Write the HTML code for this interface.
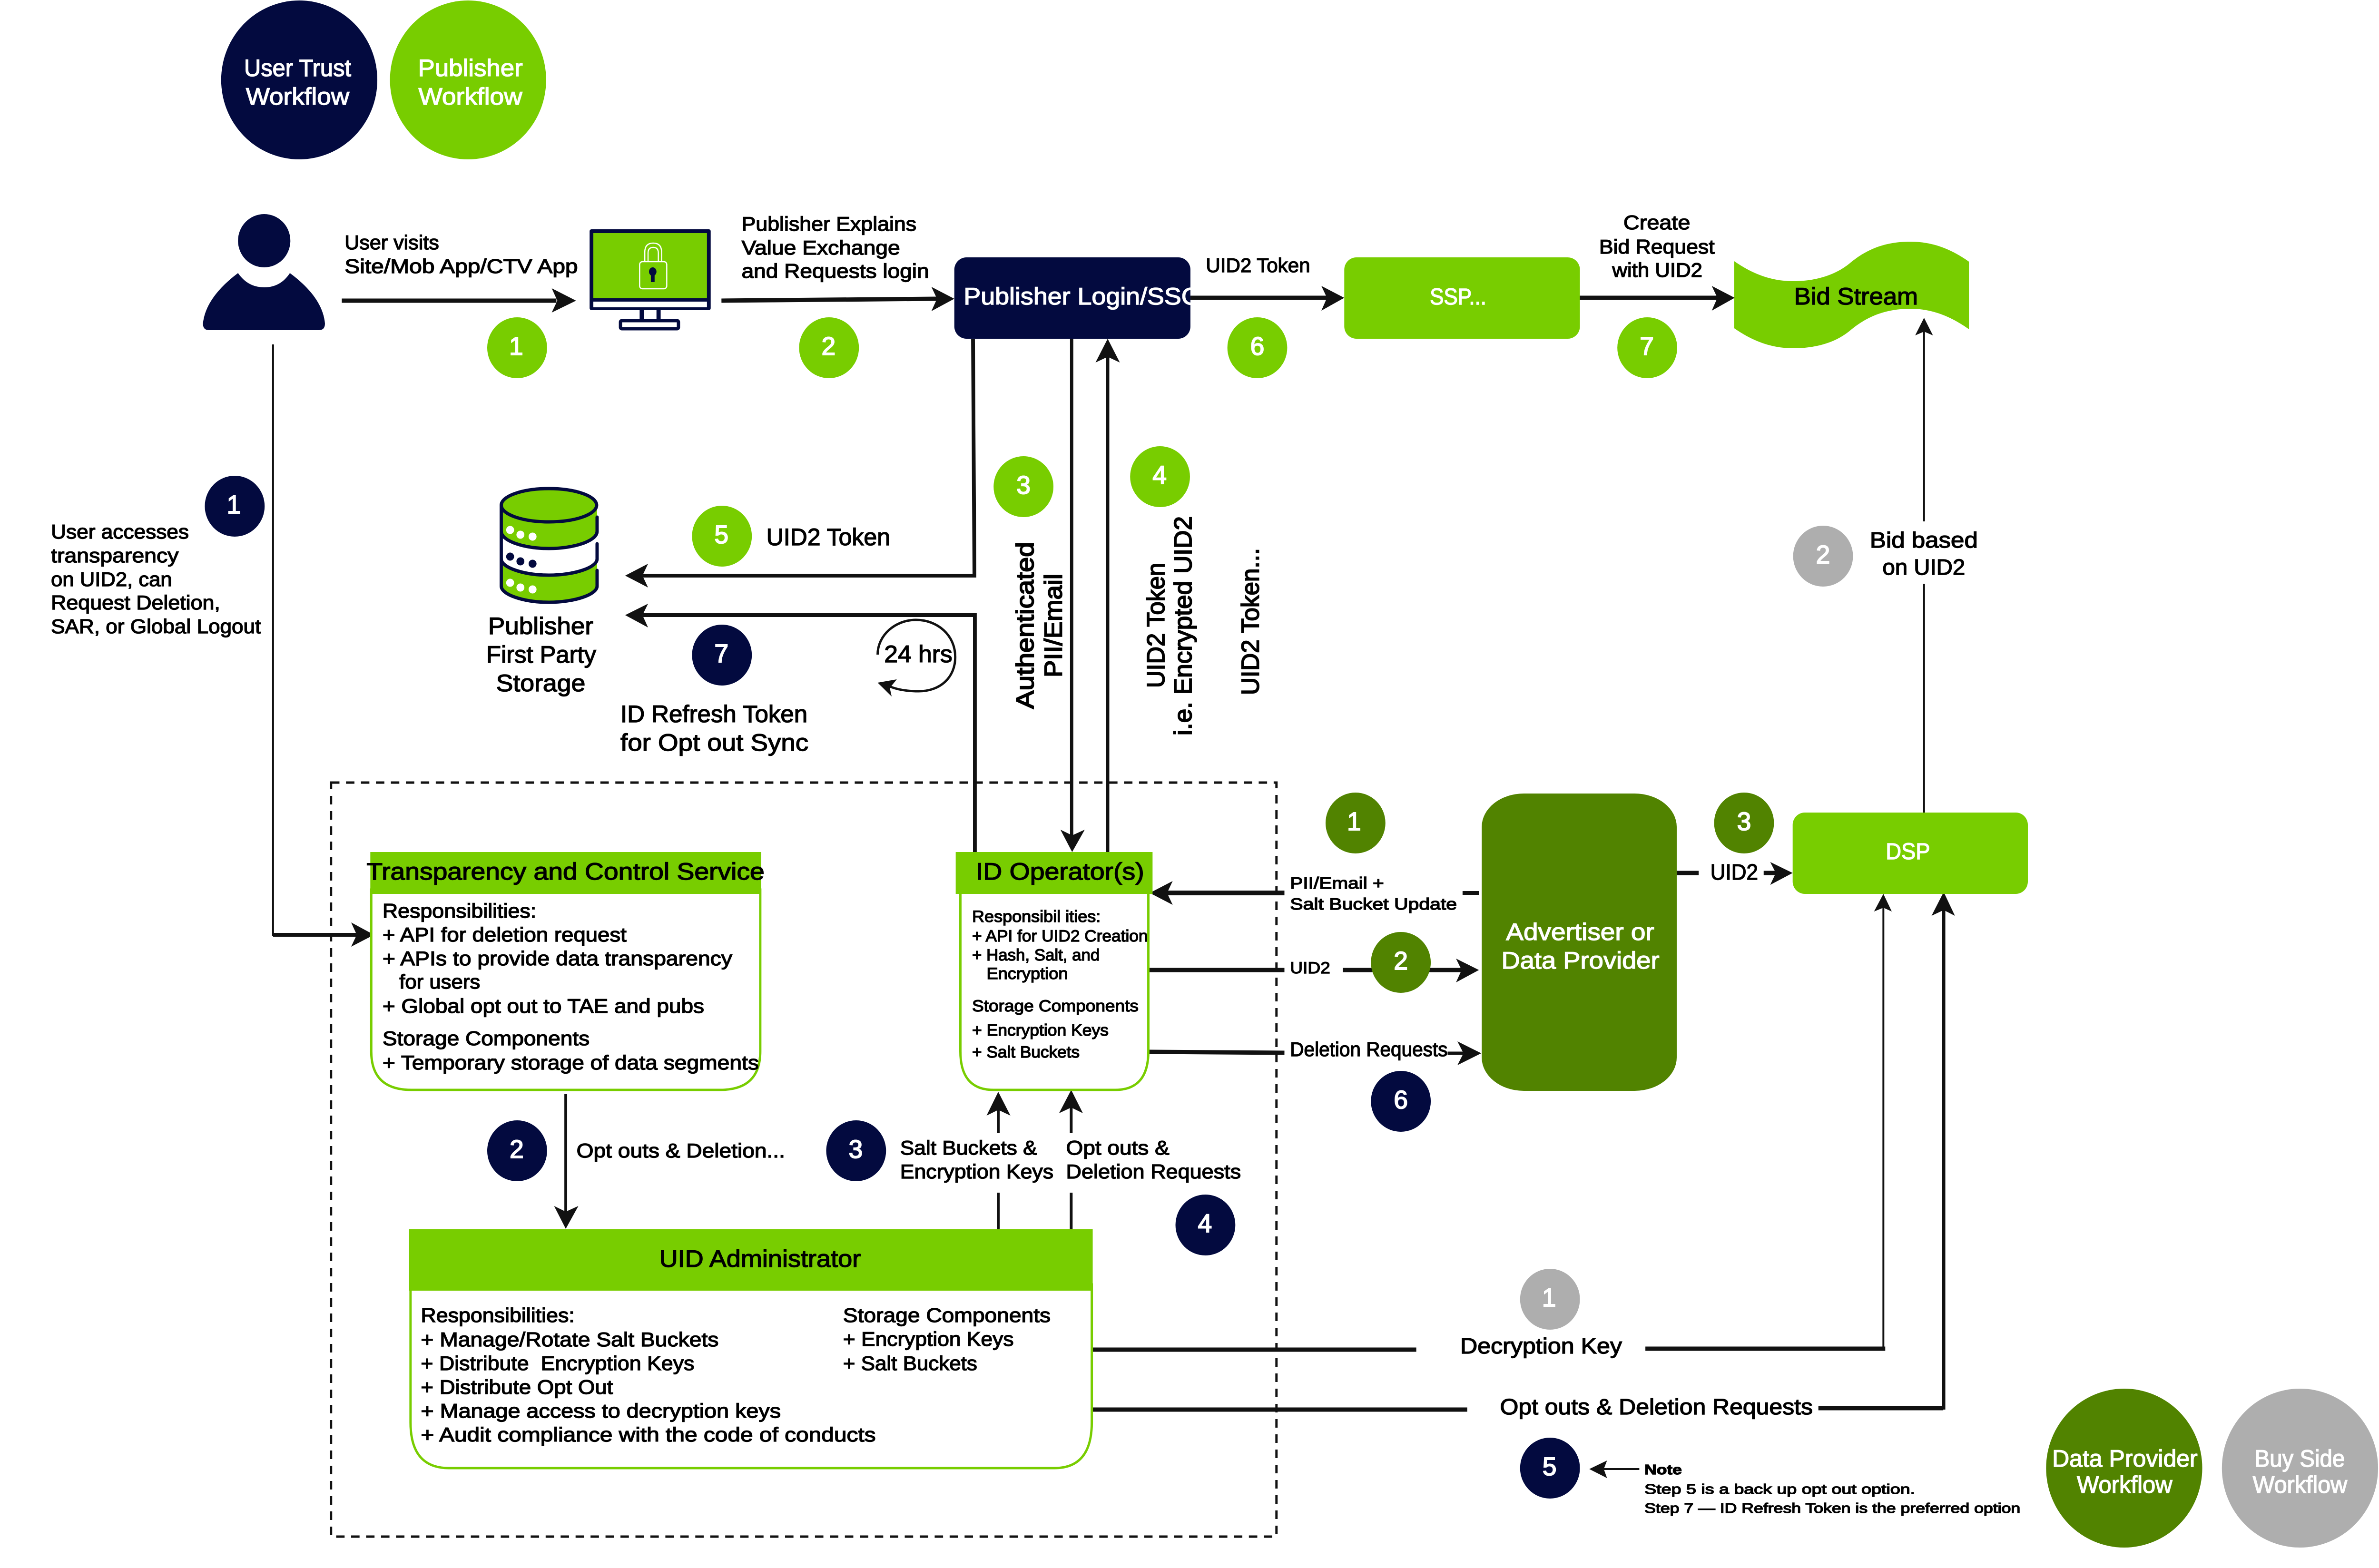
<!DOCTYPE html>
<html lang="en">
<head>
<meta charset="utf-8">
<title>UID2 Workflow Diagram</title>
<style>
html,body{margin:0;padding:0;background:#fff;overflow:hidden}
svg{display:block;width:100%;height:3296px}
text{font-family:"Liberation Sans",sans-serif;fill:#000;stroke:#000;stroke-width:1.4px}
text.w{fill:#fff;stroke:#fff}
text.n{fill:#fff;stroke:#fff;stroke-width:2px;text-anchor:middle;font-size:54px}
.f42{font-size:42px}.f50{font-size:50px}.f34{font-size:34px}.f46{font-size:46px}.f48{font-size:48px}.f29{font-size:29px}.f53{font-size:53px;stroke-width:2px}
.k{stroke:#111;fill:none}
.h{fill:#111;stroke:none}
</style>
</head>
<body>
<svg xmlns="http://www.w3.org/2000/svg" width="5088" height="3296" viewBox="0 0 5088 3296" preserveAspectRatio="none">
<defs>
<clipPath id="login-clip"><rect x="2041" y="541" width="505" height="171"/></clipPath>
</defs>
<rect width="5088" height="3296" fill="#fff"/>

<!-- Legend top -->
<g>
<circle cx="640" cy="168" r="167" fill="#030a3f"/>
<text class="w f50" x="522" y="160" textLength="229" lengthAdjust="spacingAndGlyphs">User Trust</text>
<text class="w f50" x="526" y="220" textLength="221" lengthAdjust="spacingAndGlyphs">Workflow</text>
</g>
<g>
<circle cx="1001" cy="168" r="167" fill="#78cd00"/>
<text class="w f50" x="894" y="160" textLength="224" lengthAdjust="spacingAndGlyphs">Publisher</text>
<text class="w f50" x="895" y="220" textLength="222" lengthAdjust="spacingAndGlyphs">Workflow</text>
</g>

<!-- Person -->
<g fill="#030a3f">
<ellipse cx="565" cy="506" rx="56" ry="56"/>
<path d="M509 574 Q530 604 565 604 Q600 604 620 574 Q690 625 695 680 Q695 694 682 694 L447 694 Q434 694 434 680 Q440 625 509 574 Z"/>
</g>

<!-- Monitor -->
<g>
<rect x="1261" y="482" width="259" height="170" rx="4" fill="#030a3f"/>
<rect x="1269" y="490" width="243" height="137" fill="#78cd00"/>
<rect x="1269" y="634" width="243" height="12" fill="#fff"/>
<rect x="1368" y="652" width="9" height="22" fill="#030a3f"/>
<rect x="1404" y="652" width="9" height="22" fill="#030a3f"/>
<rect x="1327" y="674" width="124" height="17" rx="3" fill="#fff" stroke="#030a3f" stroke-width="7"/>
<path d="M1379 550 V530 Q1379 511 1397 511 Q1415 511 1415 530 V550 M1386 550 V532 Q1386 520 1397 520 Q1408 520 1408 532 V550" fill="none" stroke="#fff" stroke-width="2.5"/>
<rect x="1368" y="550" width="58" height="57" rx="6" fill="#78cd00" stroke="#fff" stroke-width="2.5"/>
<ellipse cx="1396" cy="571" rx="8" ry="9" fill="#030a3f"/>
<rect x="1392" y="572" width="8" height="21" fill="#030a3f"/>
</g>

<!-- Boxes top row -->
<g>
<rect x="2041" y="541" width="505" height="171" rx="26" fill="#030a3f"/>
<text class="w f50" x="2061" y="640" textLength="505" lengthAdjust="spacingAndGlyphs" clip-path="url(#login-clip)">Publisher Login/SSC</text>
</g>
<g>
<rect x="2875" y="541" width="504" height="171" rx="26" fill="#78cd00"/>
<text class="w f48" x="3058" y="640" textLength="121" lengthAdjust="spacingAndGlyphs">SSP...</text>
</g>
<g>
<path d="M3709 549 C3750 577 3790 591 3835 591 C3880 591 3925 580 3959 551 C3995 522 4035 508 4086 508 C4135 508 4175 525 4211 550 L4211 692 C4175 667 4135 649 4086 649 C4035 649 3995 664 3959 693 C3925 722 3880 732 3835 732 C3790 732 3750 718 3709 690 Z" fill="#78cd00"/>
<text class="f50" x="3837" y="640" textLength="265" lengthAdjust="spacingAndGlyphs">Bid Stream</text>
</g>

<!-- Top labels -->
<text class="f42" x="737" y="524" textLength="202" lengthAdjust="spacingAndGlyphs">User visits</text>
<text class="f42" x="737" y="574" textLength="499" lengthAdjust="spacingAndGlyphs">Site/Mob App/CTV App</text>
<text class="f42" x="1586" y="485" textLength="374" lengthAdjust="spacingAndGlyphs">Publisher Explains</text>
<text class="f42" x="1586" y="535" textLength="339" lengthAdjust="spacingAndGlyphs">Value Exchange</text>
<text class="f42" x="1586" y="584" textLength="401" lengthAdjust="spacingAndGlyphs">and Requests login</text>
<text class="f42" x="2579" y="572" textLength="223" lengthAdjust="spacingAndGlyphs">UID2 Token</text>
<text class="f42" x="3472" y="482" textLength="143" lengthAdjust="spacingAndGlyphs">Create</text>
<text class="f42" x="3420" y="533" textLength="247" lengthAdjust="spacingAndGlyphs">Bid Request</text>
<text class="f42" x="3448" y="582" textLength="193" lengthAdjust="spacingAndGlyphs">with UID2</text>
<text class="f46" x="3999" y="1151" textLength="231" lengthAdjust="spacingAndGlyphs">Bid based</text>
<text class="f46" x="4026" y="1208" textLength="177" lengthAdjust="spacingAndGlyphs">on UID2</text>

<!-- Left text -->
<text class="f42" x="109" y="1132" textLength="295" lengthAdjust="spacingAndGlyphs">User accesses</text>
<text class="f42" x="109" y="1182" textLength="273" lengthAdjust="spacingAndGlyphs">transparency</text>
<text class="f42" x="109" y="1232" textLength="259" lengthAdjust="spacingAndGlyphs">on UID2, can</text>
<text class="f42" x="109" y="1281" textLength="362" lengthAdjust="spacingAndGlyphs">Request Deletion,</text>
<text class="f42" x="109" y="1331" textLength="449" lengthAdjust="spacingAndGlyphs">SAR, or Global Logout</text>

<!-- Database -->
<g>
<path d="M1072 1062 V1117 C1072 1137 1120 1153 1174 1153 C1228 1153 1277 1137 1277 1117 V1062 Z" fill="#78cd00"/>
<path d="M1072 1175 V1232 C1072 1250 1120 1266 1174 1266 C1228 1266 1277 1250 1277 1232 V1175 C1277 1193 1228 1209 1174 1209 C1120 1209 1072 1193 1072 1175 Z" fill="#78cd00"/>
<g fill="none" stroke="#030a3f" stroke-width="7" stroke-linecap="round">
<ellipse cx="1174" cy="1062" rx="102" ry="35" fill="#78cd00"/>
<path d="M1072 1062 V1232 C1072 1250 1120 1266 1174 1266 C1228 1266 1277 1250 1277 1232 V1199"/>
<path d="M1072 1117 C1072 1137 1120 1153 1174 1153 C1228 1153 1277 1137 1277 1117 V1087"/>
<path d="M1072 1175 C1072 1193 1120 1209 1174 1209 C1228 1209 1277 1193 1277 1175 V1143"/>
</g>
<g fill="#fff">
<circle cx="1091" cy="1114" r="8.5"/><circle cx="1113" cy="1124" r="8.5"/><circle cx="1139" cy="1128" r="8.5"/>
<circle cx="1091" cy="1225" r="8.5"/><circle cx="1113" cy="1235" r="8.5"/><circle cx="1139" cy="1239" r="8.5"/>
</g>
<g fill="#030a3f">
<circle cx="1091" cy="1170" r="8.5"/><circle cx="1113" cy="1180" r="8.5"/><circle cx="1139" cy="1185" r="8.5"/>
</g>
</g>
<text class="f50" x="1044" y="1333" textLength="225" lengthAdjust="spacingAndGlyphs">Publisher</text>
<text class="f50" x="1040" y="1393" textLength="235" lengthAdjust="spacingAndGlyphs">First Party</text>
<text class="f50" x="1061" y="1453" textLength="191" lengthAdjust="spacingAndGlyphs">Storage</text>
<text class="f50" x="1639" y="1146" textLength="265" lengthAdjust="spacingAndGlyphs">UID2 Token</text>
<text class="f50" x="1327" y="1518" textLength="400" lengthAdjust="spacingAndGlyphs">ID Refresh Token</text>
<text class="f50" x="1327" y="1578" textLength="402" lengthAdjust="spacingAndGlyphs">for Opt out Sync</text>
<text class="f50" x="1891" y="1392" textLength="146" lengthAdjust="spacingAndGlyphs">24 hrs</text>
<path class="k" stroke-width="5" d="M1877 1376 C1877 1335 1915 1303 1959 1303 C2005 1303 2043 1335 2043 1381 C2043 1425 2010 1453 1965 1453 C1940 1453 1920 1450 1903 1443"/>
<polygon class="h" points="1877,1435 1918,1428 1903,1446 1907,1464"/>

<!-- Rotated labels -->
<text class="f53" transform="translate(2210,1490) rotate(-90)" textLength="351" lengthAdjust="spacingAndGlyphs">Authenticated</text>
<text class="f53" transform="translate(2271,1424) rotate(-90)" textLength="218" lengthAdjust="spacingAndGlyphs">PII/Email</text>
<text class="f53" transform="translate(2490,1446) rotate(-90)" textLength="263" lengthAdjust="spacingAndGlyphs">UID2 Token</text>
<text class="f53" transform="translate(2548,1546) rotate(-90)" textLength="461" lengthAdjust="spacingAndGlyphs">i.e. Encrypted UID2</text>
<text class="f53" transform="translate(2692,1461) rotate(-90)" textLength="309" lengthAdjust="spacingAndGlyphs">UID2 Token...</text>

<!-- Dashed boundary -->
<rect x="708" y="1645" width="2022" height="1585" fill="none" stroke="#111" stroke-width="5" stroke-dasharray="18 14"/>

<!-- Connectors -->
<g>
<line class="k" stroke-width="9" x1="731" y1="632" x2="1190" y2="632"/>
<polygon class="h" points="1232,632 1180,606 1192,632 1180,657"/>
<line class="k" stroke-width="9" x1="1543" y1="632" x2="2004" y2="628"/>
<polygon class="h" points="2041,628 1992,603 2004,628 1992,654"/>
<line class="k" stroke-width="9" x1="2546" y1="626" x2="2838" y2="626"/>
<polygon class="h" points="2875,626 2826,601 2838,626 2826,653"/>
<line class="k" stroke-width="9" x1="3379" y1="626" x2="3673" y2="626"/>
<polygon class="h" points="3710,626 3661,601 3673,626 3661,653"/>
<polyline class="k" stroke-width="8" points="2081,713 2084,1210 1374,1210"/>
<polygon class="h" points="1337,1210 1386,1185 1374,1210 1386,1235"/>
<polyline class="k" stroke-width="8" points="1374,1293 2085,1293 2085,1791"/>
<polygon class="h" points="1337,1293 1386,1269 1374,1293 1386,1319"/>
<line class="k" stroke-width="7" x1="2292" y1="712" x2="2292" y2="1760"/>
<polygon class="h" points="2293,1791 2268,1744 2293,1756 2320,1744"/>
<line class="k" stroke-width="7" x1="2369" y1="750" x2="2369" y2="1791"/>
<polygon class="h" points="2369,712 2343,762 2369,750 2395,762"/>
<line class="k" stroke-width="4" x1="584" y1="724" x2="584" y2="1967"/>
<line class="k" stroke-width="8" x1="584" y1="1965" x2="763" y2="1965"/>
<polygon class="h" points="800,1965 751,1939 763,1965 751,1990"/>
<line class="k" stroke-width="4" x1="4115" y1="1096" x2="4115" y2="697"/>
<line class="k" stroke-width="4" x1="4115" y1="1227" x2="4115" y2="1708"/>
<polygon class="h" points="4115,668 4096,705 4115,697 4134,705"/>
<line class="k" stroke-width="6" x1="1210" y1="2300" x2="1210" y2="2547"/>
<polygon class="h" points="1210,2583 1185,2535 1210,2547 1237,2535"/>
<line class="k" stroke-width="6" x1="2135" y1="2333" x2="2135" y2="2382"/>
<line class="k" stroke-width="6" x1="2135" y1="2507" x2="2135" y2="2585"/>
<polygon class="h" points="2135,2295 2110,2345 2135,2333 2161,2345"/>
<line class="k" stroke-width="6" x1="2291" y1="2328" x2="2291" y2="2382"/>
<line class="k" stroke-width="6" x1="2291" y1="2507" x2="2291" y2="2585"/>
<polygon class="h" points="2291,2291 2265,2340 2291,2328 2316,2340"/>
<line class="k" stroke-width="10" x1="2747" y1="1877" x2="2496" y2="1877"/>
<line class="k" stroke-width="8" x1="3128" y1="1877" x2="3163" y2="1877"/>
<polygon class="h" points="2459,1877 2508,1852 2496,1877 2508,1902"/>
<line class="k" stroke-width="9" x1="2458" y1="2039" x2="2747" y2="2039"/>
<line class="k" stroke-width="9" x1="2872" y1="2039" x2="3126" y2="2039"/>
<polygon class="h" points="3163,2039 3114,2015 3126,2039 3114,2065"/>
<line class="k" stroke-width="9" x1="2458" y1="2211" x2="2747" y2="2213"/>
<line class="k" stroke-width="7" x1="3096" y1="2214" x2="3130" y2="2214"/>
<polygon class="h" points="3168,2214 3117,2189 3130,2214 3117,2239"/>
<line class="k" stroke-width="9" x1="3586" y1="1835" x2="3633" y2="1835"/>
<line class="k" stroke-width="9" x1="3772" y1="1835" x2="3798" y2="1835"/>
<polygon class="h" points="3834,1835 3786,1812 3798,1835 3786,1860"/>
<line class="k" stroke-width="4" x1="4028" y1="1908" x2="4028" y2="2835"/>
<polygon class="h" points="4028,1879 4008,1916 4028,1908 4046,1916"/>
<line class="k" stroke-width="7" x1="4157" y1="1913" x2="4157" y2="2963"/>
<polygon class="h" points="4157,1875 4131,1925 4157,1913 4181,1925"/>
<line class="k" stroke-width="9" x1="2337" y1="2837" x2="3029" y2="2837"/>
<line class="k" stroke-width="9" x1="3519" y1="2835" x2="4032" y2="2835"/>
<line class="k" stroke-width="9" x1="2337" y1="2963" x2="3138" y2="2963"/>
<line class="k" stroke-width="9" x1="3889" y1="2960" x2="4156" y2="2960"/>
<line class="k" stroke-width="4" x1="3506" y1="3088" x2="3430" y2="3088"/>
<polygon class="h" points="3399,3088 3437,3070 3430,3088 3437,3107"/>
</g>

<!-- Transparency box -->
<g>
<path d="M794 1870 V2210 Q794 2291 880 2291 H1540 Q1626 2291 1626 2210 V1870 Z" fill="#fff" stroke="#78cd00" stroke-width="5"/>
<rect x="792" y="1791" width="836" height="88" fill="#78cd00"/>
<text class="f50" x="784" y="1849" textLength="851" lengthAdjust="spacingAndGlyphs">Transparency and Control Service</text>
<text class="f42" x="818" y="1929" textLength="329" lengthAdjust="spacingAndGlyphs">Responsibilities:</text>
<text class="f42" x="818" y="1979" textLength="522" lengthAdjust="spacingAndGlyphs">+ API for deletion request</text>
<text class="f42" x="818" y="2029" textLength="748" lengthAdjust="spacingAndGlyphs">+ APIs to provide data transparency</text>
<text class="f42" x="854" y="2078" textLength="173" lengthAdjust="spacingAndGlyphs">for users</text>
<text class="f42" x="818" y="2129" textLength="688" lengthAdjust="spacingAndGlyphs">+ Global opt out to TAE and pubs</text>
<text class="f42" x="818" y="2197" textLength="443" lengthAdjust="spacingAndGlyphs">Storage Components</text>
<text class="f42" x="818" y="2248" textLength="805" lengthAdjust="spacingAndGlyphs">+ Temporary storage of data segments</text>
</g>

<!-- ID Operator box -->
<g>
<path d="M2054 1870 V2210 Q2054 2291 2125 2291 H2385 Q2456 2291 2456 2210 V1870 Z" fill="#fff" stroke="#78cd00" stroke-width="5"/>
<rect x="2044" y="1791" width="421" height="88" fill="#78cd00"/>
<text class="f50" x="2087" y="1849" textLength="360" lengthAdjust="spacingAndGlyphs">ID Operator(s)</text>
<text class="f34" x="2079" y="1938" textLength="275" lengthAdjust="spacingAndGlyphs">Responsibil ities:</text>
<text class="f34" x="2079" y="1979" textLength="376" lengthAdjust="spacingAndGlyphs">+ API for UID2 Creation</text>
<text class="f34" x="2079" y="2019" textLength="273" lengthAdjust="spacingAndGlyphs">+ Hash, Salt, and</text>
<text class="f34" x="2110" y="2058" textLength="174" lengthAdjust="spacingAndGlyphs">Encryption</text>
<text class="f34" x="2079" y="2126" textLength="356" lengthAdjust="spacingAndGlyphs">Storage Components</text>
<text class="f34" x="2079" y="2177" textLength="292" lengthAdjust="spacingAndGlyphs">+ Encryption Keys</text>
<text class="f34" x="2079" y="2223" textLength="230" lengthAdjust="spacingAndGlyphs">+ Salt Buckets</text>
</g>

<!-- UID Admin box -->
<g>
<path d="M878 2700 V2990 Q878 3086 960 3086 H2255 Q2335 3086 2335 2990 V2700 Z" fill="#fff" stroke="#78cd00" stroke-width="5"/>
<rect x="875" y="2584" width="1462" height="129" fill="#78cd00"/>
<text class="f50" x="1410" y="2663" textLength="431" lengthAdjust="spacingAndGlyphs">UID Administrator</text>
<text class="f42" x="900" y="2779" textLength="329" lengthAdjust="spacingAndGlyphs">Responsibilities:</text>
<text class="f42" x="900" y="2830" textLength="637" lengthAdjust="spacingAndGlyphs">+ Manage/Rotate Salt Buckets</text>
<text class="f42" x="900" y="2880" textLength="585" lengthAdjust="spacingAndGlyphs" xml:space="preserve">+ Distribute  Encryption Keys</text>
<text class="f42" x="900" y="2930" textLength="411" lengthAdjust="spacingAndGlyphs">+ Distribute Opt Out</text>
<text class="f42" x="900" y="2980" textLength="770" lengthAdjust="spacingAndGlyphs">+ Manage access to decryption keys</text>
<text class="f42" x="900" y="3030" textLength="973" lengthAdjust="spacingAndGlyphs">+ Audit compliance with the code of conducts</text>
<text class="f42" x="1803" y="2779" textLength="444" lengthAdjust="spacingAndGlyphs">Storage Components</text>
<text class="f42" x="1803" y="2829" textLength="365" lengthAdjust="spacingAndGlyphs">+ Encryption Keys</text>
<text class="f42" x="1803" y="2880" textLength="287" lengthAdjust="spacingAndGlyphs">+ Salt Buckets</text>
</g>

<!-- Core labels -->
<text class="f42" x="1233" y="2433" textLength="446" lengthAdjust="spacingAndGlyphs">Opt outs &amp; Deletion...</text>
<text class="f42" x="1925" y="2427" textLength="293" lengthAdjust="spacingAndGlyphs">Salt Buckets &amp;</text>
<text class="f42" x="1925" y="2477" textLength="328" lengthAdjust="spacingAndGlyphs">Encryption Keys</text>
<text class="f42" x="2280" y="2427" textLength="221" lengthAdjust="spacingAndGlyphs">Opt outs &amp;</text>
<text class="f42" x="2280" y="2477" textLength="374" lengthAdjust="spacingAndGlyphs">Deletion Requests</text>

<!-- Advertiser / DSP -->
<g>
<rect x="3169" y="1668" width="417" height="625" rx="90" ry="70" fill="#518300"/>
<text class="w f50" x="3221" y="1976" textLength="317" lengthAdjust="spacingAndGlyphs">Advertiser or</text>
<text class="w f50" x="3211" y="2036" textLength="338" lengthAdjust="spacingAndGlyphs">Data Provider</text>
</g>
<g>
<rect x="3834" y="1708" width="503" height="171" rx="26" fill="#78cd00"/>
<text class="w f48" x="4033" y="1806" textLength="95" lengthAdjust="spacingAndGlyphs">DSP</text>
</g>
<text class="f34" x="2759" y="1868" textLength="201" lengthAdjust="spacingAndGlyphs">PII/Email +</text>
<text class="f34" x="2759" y="1912" textLength="357" lengthAdjust="spacingAndGlyphs">Salt Bucket Update</text>
<text class="f34" x="2759" y="2046" textLength="86" lengthAdjust="spacingAndGlyphs">UID2</text>
<text class="f42" x="2759" y="2220" textLength="337" lengthAdjust="spacingAndGlyphs">Deletion Requests</text>
<text class="f46" x="3658" y="1849" textLength="102" lengthAdjust="spacingAndGlyphs">UID2</text>

<!-- Bottom labels -->
<text class="f46" x="3123" y="2845" textLength="346" lengthAdjust="spacingAndGlyphs">Decryption Key</text>
<text class="f46" x="3208" y="2973" textLength="669" lengthAdjust="spacingAndGlyphs">Opt outs &amp; Deletion Requests</text>
<text class="f29" x="3517" y="3099" textLength="80" lengthAdjust="spacingAndGlyphs" font-weight="bold">Note</text>
<text class="f29" x="3517" y="3140" textLength="579" lengthAdjust="spacingAndGlyphs">Step 5 is a back up opt out option.</text>
<text class="f29" x="3517" y="3180" textLength="804" lengthAdjust="spacingAndGlyphs">Step 7 — ID Refresh Token is the preferred option</text>

<!-- Legend bottom -->
<g>
<circle cx="4543" cy="3086" r="167" fill="#518300"/>
<text class="w f50" x="4389" y="3083" textLength="311" lengthAdjust="spacingAndGlyphs">Data Provider</text>
<text class="w f50" x="4442" y="3138" textLength="204" lengthAdjust="spacingAndGlyphs">Workflow</text>
</g>
<g>
<circle cx="4919" cy="3086" r="167" fill="#aeaeae"/>
<text class="w f50" x="4822" y="3083" textLength="193" lengthAdjust="spacingAndGlyphs">Buy Side</text>
<text class="w f50" x="4818" y="3138" textLength="202" lengthAdjust="spacingAndGlyphs">Workflow</text>
</g>

<!-- Badges -->
<g>
<circle cx="1106" cy="731" r="64" fill="#78cd00"/><text class="n" x="1104" y="746">1</text>
<circle cx="1773" cy="731" r="64" fill="#78cd00"/><text class="n" x="1772" y="746">2</text>
<circle cx="2189" cy="1023" r="64" fill="#78cd00"/><text class="n" x="2189" y="1038">3</text>
<circle cx="2481" cy="1002" r="64" fill="#78cd00"/><text class="n" x="2480" y="1017">4</text>
<circle cx="1544" cy="1127" r="64" fill="#78cd00"/><text class="n" x="1543" y="1142">5</text>
<circle cx="2689" cy="731" r="64" fill="#78cd00"/><text class="n" x="2689" y="746">6</text>
<circle cx="3523" cy="731" r="64" fill="#78cd00"/><text class="n" x="3522" y="746">7</text>
<circle cx="502" cy="1064" r="64" fill="#030a3f"/><text class="n" x="500" y="1079">1</text>
<circle cx="1106" cy="2419" r="64" fill="#030a3f"/><text class="n" x="1105" y="2434">2</text>
<circle cx="1831" cy="2419" r="64" fill="#030a3f"/><text class="n" x="1830" y="2434">3</text>
<circle cx="2578" cy="2575" r="64" fill="#030a3f"/><text class="n" x="2577" y="2590">4</text>
<circle cx="3315" cy="3086" r="64" fill="#030a3f"/><text class="n" x="3314" y="3101">5</text>
<circle cx="2996" cy="2315" r="64" fill="#030a3f"/><text class="n" x="2996" y="2330">6</text>
<circle cx="1544" cy="1377" r="64" fill="#030a3f"/><text class="n" x="1543" y="1392">7</text>
<circle cx="2899" cy="1730" r="64" fill="#518300"/><text class="n" x="2896" y="1745">1</text>
<circle cx="2996" cy="2023" r="64" fill="#518300"/><text class="n" x="2996" y="2038">2</text>
<circle cx="3730" cy="1730" r="64" fill="#518300"/><text class="n" x="3730" y="1745">3</text>
<circle cx="3315" cy="2731" r="64" fill="#aeaeae"/><text class="n" x="3313" y="2746">1</text>
<circle cx="3899" cy="1169" r="64" fill="#aeaeae"/><text class="n" x="3899" y="1184">2</text>
</g>
</svg>
</body>
</html>
